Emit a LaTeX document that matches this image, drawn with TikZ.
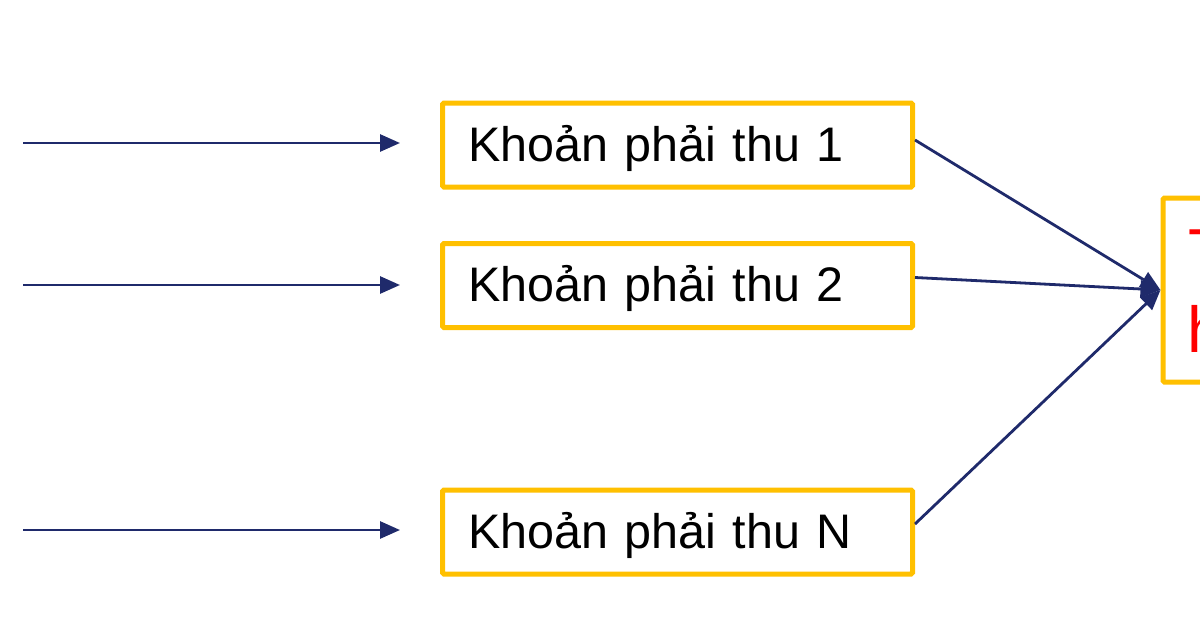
\documentclass[tikz,border=0pt]{standalone}
\usepackage{fontspec}
\setmainfont{Liberation Sans}
\usetikzlibrary{arrows.meta}
\definecolor{boxyellow}{RGB}{255,192,0}
\definecolor{navy}{RGB}{31,42,107}
\definecolor{redtxt}{RGB}{255,0,0}
\tikzset{
  kbox/.style={draw=boxyellow, line width=5pt, rounded corners=1.5pt, fill=white,
    minimum width=470pt, minimum height=84pt, text width=418pt, align=left,
    inner xsep=26pt, inner ysep=0pt, text height=43pt, text depth=11pt,
    font=\fontsize{48.5}{58}\selectfont, text=black},
  rbox/.style={draw=boxyellow, line width=5pt, rounded corners=1.5pt, fill=white,
    minimum width=200pt, minimum height=184pt},
  rtxt/.style={font=\fontsize{65}{78}\selectfont, text=redtxt, inner sep=0pt, anchor=base west},
  arr/.style={draw=navy, line width=2.8pt, -{Triangle[length=20pt, width=17pt]}},
}
\begin{document}
\begin{tikzpicture}[x=1pt,y=-1pt]
\useasboundingbox (0,0) rectangle (1200,630);
\clip (0,0) rectangle (1200,630);
\fill[white] (0,0) rectangle (1200,630);

\node[kbox] (b1) at (677.5,145) {Khoản phải thu 1};
\node[kbox] (b2) at (677.5,285.5) {Khoản phải thu 2};
\node[kbox] (bN) at (677.5,532) {Khoản phải thu N};

\node[rbox, anchor=west] (tot) at (1160.5,290) {};
\node[rtxt] (t1) at (1188,274) {T};
\node[rtxt] (t2) at (1187.5,352) {h};

\coordinate (s1) at (23,143);
\coordinate (e1) at (400,143);
\coordinate (s2) at (23,285);
\coordinate (e2) at (400,285);
\coordinate (sN) at (23,530);
\coordinate (eN) at (400,530);

\draw[arr] (s1) -- (e1);
\draw[arr] (s2) -- (e2);
\draw[arr] (sN) -- (eN);

\draw[arr] ([yshift=5pt]b1.east) -- (tot.west);
\draw[arr] ([yshift=8pt]b2.east) -- (tot.west);
\draw[arr] ([yshift=8pt]bN.east) -- (tot.west);
\end{tikzpicture}
\end{document}
